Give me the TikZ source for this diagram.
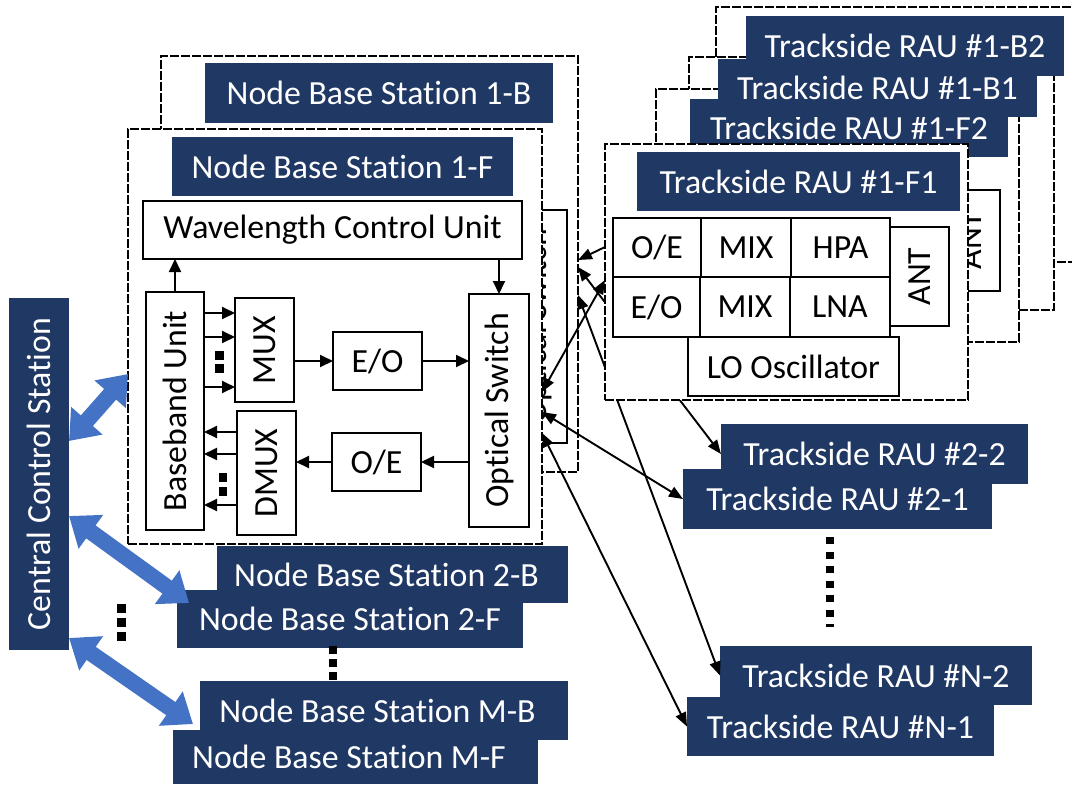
\documentclass[tikz,border=0pt]{standalone}
\usepackage{fontspec}
\setmainfont{Carlito}[Ligatures=NoCommon]
\usepackage{graphicx}
\usetikzlibrary{arrows.meta}
\definecolor{nbsblue}{RGB}{32,56,100}
\definecolor{arrblue}{RGB}{68,114,196}
% box from corners: [style]{name}{x1}{y1}{x2}{y2}{text}
\newcommand\bx[7][]{%
  \pgfmathsetmacro\bxcx{(#3+#5)/2}\pgfmathsetmacro\bxcy{(#4+#6)/2}%
  \pgfmathsetmacro\bxw{#5-#3}\pgfmathsetmacro\bxh{#6-#4}%
  \node[#1, minimum width=\bxw pt, minimum height=\bxh pt] (#2) at (\bxcx,\bxcy) {#7};}
\begin{document}
\begin{tikzpicture}[x=1pt,y=-1pt, font=\fontsize{33.8}{37}\selectfont,
  frm/.style={draw=black, line width=2.8pt, dash pattern=on 9pt off 2pt, fill=white, inner sep=0pt, outer sep=0pt},
  wbx/.style={draw=black, line width=1.2pt, fill=white, inner sep=0pt, outer sep=0pt},
  ttl/.style={fill=nbsblue, text=white, inner sep=0pt, outer sep=0pt},
  sarrow/.style={line width=1.9pt, -{Triangle[length=13pt,width=12pt]}},
  rarrow/.style={line width=1.9pt, {Triangle[length=14pt,width=11pt]}-{Triangle[length=14pt,width=11pt]}},
  rarrowone/.style={line width=1.9pt, -{Triangle[length=14pt,width=11pt]}},
  barrow/.style={arrblue, line width=16pt, {Triangle[length=27pt,width=40pt]}-{Triangle[length=27pt,width=40pt]}},
]
\clip (0,0) rectangle (1072,785);
\fill[white] (0,0) rectangle (1072,785);

% Central control station
\bx[ttl]{CCS}{9}{298}{69}{650}{\rotatebox{90}{Central Control Station}}

% Node base station 1-B (back)
\bx[frm]{NB1B}{161}{56}{578}{472}{}
\bx[ttl]{NB1Bt}{205}{63}{553}{123}{Node Base Station 1-B}
\bx[wbx]{OSWB}{508}{210}{567}{443}{\rotatebox{90}{Optical Switch}}

% Node base station 1-F (front)
\bx[frm]{NB1F}{128}{129}{542}{544}{}
\bx[ttl]{NB1Ft}{172}{137}{513}{196}{Node Base Station 1-F}
\bx[wbx]{WCU}{143}{201}{522}{259}{Wavelength Control Unit}
\bx[wbx]{BBU}{146}{292}{204}{530}{\rotatebox{90}{Baseband Unit}}
\bx[wbx]{MUX}{235}{298}{294}{402}{\rotatebox{90}{MUX}}
\bx[wbx]{DMUX}{237}{411}{296}{535}{\rotatebox{90}{DMUX}}
\bx[wbx]{EO}{333}{332}{422}{390}{E/O}
\bx[wbx]{OE}{332}{433}{421}{491}{O/E}
\bx[wbx]{OSW}{469}{294}{529}{527}{\rotatebox{90}{Optical Switch}}

\draw[sarrow] (BBU.north) -- (BBU.north |- WCU.south);
\draw[sarrow] (OSW.north |- WCU.south) -- (OSW.north);
\foreach \yy in {313,337,387} \draw[sarrow] (BBU.east |- 0,\yy) -- (MUX.west |- 0,\yy);
\draw[sarrow] (MUX.east |- EO.west) -- (EO.west);
\draw[sarrow] (EO.east) -- (EO.east -| OSW.west);
\draw[sarrow] (OSW.west |- OE.east) -- (OE.east);
\draw[sarrow] (OE.west) -- (OE.west -| DMUX.east);
\foreach \yy in {432,454,505} \draw[sarrow] (DMUX.west |- 0,\yy) -- (BBU.east |- 0,\yy);
\fill (215,351) rectangle (224,360); \fill (215,364) rectangle (224,373);
\fill (219,473) rectangle (227,482); \fill (219,487) rectangle (227,496);

% other node base stations
\bx[ttl]{NB2B}{217}{546}{568}{603}{\hspace*{-12pt}Node Base Station 2-B}
\bx[ttl]{NB2F}{177}{590}{523}{648}{Node Base Station 2-F}
\bx[ttl]{NBMB}{200}{681}{568}{740}{\hspace*{-13pt}Node Base Station M-B}
\bx[ttl]{NBMF}{173}{730}{538}{784}{\hspace*{-13pt}Node Base Station M-F}
\fill (329,646) rectangle (337,654); \fill (329,659) rectangle (337,667); \fill (329,672) rectangle (337,680);
\fill (117,604) rectangle (126,613); \fill (117,618) rectangle (126,627); \fill (117,632) rectangle (126,641);

% lower trackside RAUs
\bx[ttl]{R22}{721}{424}{1028}{484}{Trackside RAU \#2-2}
\bx[ttl]{R21}{683}{469}{992}{529}{Trackside RAU \#2-1}
\bx[ttl]{RN2}{720}{646}{1032}{705}{Trackside RAU \#N-2}
\bx[ttl]{RN1}{687}{697}{994}{756}{Trackside RAU \#N-1}
\draw[line width=8.5pt, dash pattern=on 7pt off 7.5pt] (830,537) -- (830,627);

% stacked RAU frames
\bx[frm]{B2}{716}{7}{1085}{262}{}
\bx[frm]{B1}{689}{57}{1054}{310}{}
\bx[frm]{F2}{656}{89}{1019}{342}{}
\bx[wbx]{F2ANT}{941}{190}{1000}{291}{\rotatebox{90}{ANT}}
\bx[ttl]{B2t}{746}{16}{1064}{76}{Trackside RAU \#1-B2}
\bx[ttl]{F2t}{690}{99}{1008}{157}{Trackside RAU \#1-F2}
\bx[ttl]{B1t}{718}{59}{1037}{117}{Trackside RAU \#1-B1}

% links from switch 1-B (pass behind RAU 1-F1)
\draw[rarrow] (NB1B.east |- 0,267) -- (R22.west);
\draw[rarrow] (NB1B.east |- 0,295) -- (RN2.west);

% RAU 1-F1
\bx[frm]{F1}{605}{144}{968}{400}{}
\bx[ttl]{F1t}{637}{152}{960}{211}{Trackside RAU \#1-F1}
\bx[wbx]{OE1}{613}{218}{701}{277}{O/E}
\bx[wbx]{MIXa}{701}{218}{791}{277}{MIX}
\bx[wbx]{HPA}{791}{218}{890}{277}{HPA}
\bx[wbx]{EO1}{613}{277}{700}{337}{E/O}
\bx[wbx]{MIXb}{700}{277}{790}{337}{MIX}
\bx[wbx]{LNA}{790}{277}{890}{337}{LNA}
\bx[wbx]{ANT}{890}{227}{949}{326}{\rotatebox{90}{ANT}}
\bx[wbx]{LO}{688}{337}{899}{396}{LO Oscillator}

% links from switch 1-F
\draw[rarrowone] (F1.west |- 0,247) -- (NB1B.east |- 0,260);
\draw[rarrow] (NB1F.east |- 0,392) -- (F1.west |- 0,280);
\draw[rarrow] (NB1F.east |- 0,412) -- (R21.west);
\draw[rarrow] (NB1F.east |- 0,433) -- (RN1.west);

% blue links from central control station
\draw[barrow] (CCS.east |- 0,441) -- (NB1F.west |- 0,374);
\draw[barrow] (CCS.east |- 0,516) -- ([shift={(12,13)}]NB2F.north west);
\draw[barrow] (CCS.east |- 0,638) -- ([shift={(20,-6)}]NBMF.north west);
\end{tikzpicture}
\end{document}
